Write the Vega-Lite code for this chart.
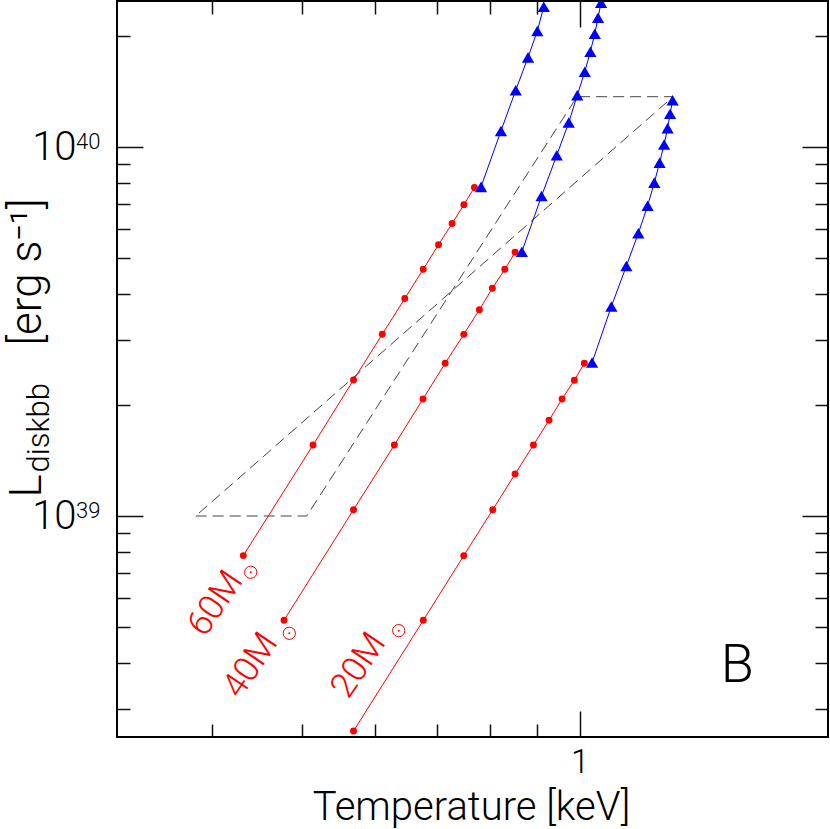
{
  "$schema": "https://vega.github.io/schema/vega-lite/v6.json",
  "width": 711,
  "height": 736,
  "autosize": {"type": "none"},
  "padding": {"left": 117, "top": 1, "right": 2, "bottom": 92},
  "background": "white",
  "config": {
    "view": {"stroke": "black", "strokeWidth": 2},
    "axis": {
      "grid": false,
      "domain": false,
      "tickColor": "#111111",
      "tickWidth": 1.5,
      "labelFont": "Roboto",
      "labelFontWeight": 300,
      "titleFont": "Roboto",
      "titleFontWeight": 300,
      "labelColor": "black",
      "titleColor": "black",
      "labelFontSize": 36,
      "titleFontSize": 41
    }
  },
  "datasets": {
    "tracks": [
      {"mass": "60", "branch": "std", "T": 0.4322, "L": 7.81e38},
      {"mass": "60", "branch": "std", "T": 0.5143, "L": 1.557e39},
      {"mass": "60", "branch": "std", "T": 0.5690, "L": 2.337e39},
      {"mass": "60", "branch": "std", "T": 0.6113, "L": 3.109e39},
      {"mass": "60", "branch": "std", "T": 0.6466, "L": 3.885e39},
      {"mass": "60", "branch": "std", "T": 0.6770, "L": 4.662e39},
      {"mass": "60", "branch": "std", "T": 0.7034, "L": 5.436e39},
      {"mass": "60", "branch": "std", "T": 0.7276, "L": 6.204e39},
      {"mass": "60", "branch": "std", "T": 0.7493, "L": 6.976e39},
      {"mass": "60", "branch": "std", "T": 0.7693, "L": 7.768e39},
      {"mass": "60", "branch": "slim", "T": 0.7821, "L": 7.80e39},
      {"mass": "60", "branch": "slim", "T": 0.8219, "L": 1.105e40},
      {"mass": "60", "branch": "slim", "T": 0.8528, "L": 1.425e40},
      {"mass": "60", "branch": "slim", "T": 0.8794, "L": 1.750e40},
      {"mass": "60", "branch": "slim", "T": 0.9000, "L": 2.063e40},
      {"mass": "60", "branch": "slim", "T": 0.9146, "L": 2.400e40},
      {"mass": "40", "branch": "std", "T": 0.4784, "L": 5.216e38},
      {"mass": "40", "branch": "std", "T": 0.5690, "L": 1.040e39},
      {"mass": "40", "branch": "std", "T": 0.6300, "L": 1.557e39},
      {"mass": "40", "branch": "std", "T": 0.6767, "L": 2.076e39},
      {"mass": "40", "branch": "std", "T": 0.7152, "L": 2.594e39},
      {"mass": "40", "branch": "std", "T": 0.7491, "L": 3.107e39},
      {"mass": "40", "branch": "std", "T": 0.7789, "L": 3.624e39},
      {"mass": "40", "branch": "std", "T": 0.8045, "L": 4.141e39},
      {"mass": "40", "branch": "std", "T": 0.8299, "L": 4.662e39},
      {"mass": "40", "branch": "std", "T": 0.8514, "L": 5.183e39},
      {"mass": "40", "branch": "slim", "T": 0.8660, "L": 5.203e39},
      {"mass": "40", "branch": "slim", "T": 0.9095, "L": 7.366e39},
      {"mass": "40", "branch": "slim", "T": 0.9447, "L": 9.501e39},
      {"mass": "40", "branch": "slim", "T": 0.9734, "L": 1.165e40},
      {"mass": "40", "branch": "slim", "T": 0.9943, "L": 1.382e40},
      {"mass": "40", "branch": "slim", "T": 1.0131, "L": 1.600e40},
      {"mass": "40", "branch": "slim", "T": 1.0273, "L": 1.813e40},
      {"mass": "40", "branch": "slim", "T": 1.0387, "L": 2.028e40},
      {"mass": "40", "branch": "slim", "T": 1.0472, "L": 2.241e40},
      {"mass": "40", "branch": "slim", "T": 1.0551, "L": 2.461e40},
      {"mass": "20", "branch": "std", "T": 0.5690, "L": 2.614e38},
      {"mass": "20", "branch": "std", "T": 0.6772, "L": 5.216e38},
      {"mass": "20", "branch": "std", "T": 0.7491, "L": 7.808e38},
      {"mass": "20", "branch": "std", "T": 0.8053, "L": 1.040e39},
      {"mass": "20", "branch": "std", "T": 0.8514, "L": 1.300e39},
      {"mass": "20", "branch": "std", "T": 0.8913, "L": 1.557e39},
      {"mass": "20", "branch": "std", "T": 0.9267, "L": 1.817e39},
      {"mass": "20", "branch": "std", "T": 0.9573, "L": 2.076e39},
      {"mass": "20", "branch": "std", "T": 0.9871, "L": 2.333e39},
      {"mass": "20", "branch": "std", "T": 1.0120, "L": 2.594e39},
      {"mass": "20", "branch": "slim", "T": 1.0317, "L": 2.606e39},
      {"mass": "20", "branch": "slim", "T": 1.0826, "L": 3.697e39},
      {"mass": "20", "branch": "slim", "T": 1.1238, "L": 4.759e39},
      {"mass": "20", "branch": "slim", "T": 1.1579, "L": 5.837e39},
      {"mass": "20", "branch": "slim", "T": 1.1850, "L": 6.929e39},
      {"mass": "20", "branch": "slim", "T": 1.2050, "L": 8.008e39},
      {"mass": "20", "branch": "slim", "T": 1.2210, "L": 9.068e39},
      {"mass": "20", "branch": "slim", "T": 1.2348, "L": 1.016e40},
      {"mass": "20", "branch": "slim", "T": 1.2456, "L": 1.124e40},
      {"mass": "20", "branch": "slim", "T": 1.2534, "L": 1.231e40},
      {"mass": "20", "branch": "slim", "T": 1.2613, "L": 1.339e40}
    ],
    "region": [
      {"i": 0, "T": 0.3838, "L": 1.0e39},
      {"i": 1, "T": 0.5063, "L": 1.0e39},
      {"i": 2, "T": 0.9938, "L": 1.369e40},
      {"i": 3, "T": 1.2628, "L": 1.369e40},
      {"i": 4, "T": 0.3838, "L": 1.0e39}
    ],
    "labels": [
      {"text": "60M", "T": 0.3928, "L": 4.67e38},
      {"text": "40M", "T": 0.4287, "L": 3.172e38},
      {"text": "20M", "T": 0.5614, "L": 3.172e38}
    ],
    "suns": [
      {"mass": "60", "T": 0.4403, "L": 7.04e38},
      {"mass": "40", "T": 0.4848, "L": 4.81e38},
      {"mass": "20", "T": 0.6369, "L": 4.89e38}
    ],
    "panel": [
      {"text": "B", "T": 1.4826, "L": 3.556e38}
    ]
  },
  "resolve": {"axis": {"x": "independent", "y": "independent"}},
  "layer": [
    {
      "data": {"name": "region"},
      "mark": {"type": "line", "stroke": "#444444", "strokeWidth": 1, "strokeDash": [11, 6], "clip": true},
      "encoding": {
        "x": {"field": "T", "type": "quantitative",
          "scale": {"type": "log", "domain": [0.3154, 1.8585], "nice": false},
          "axis": {"orient": "bottom", "values": [1], "tickSize": -26, "labels": false,
            "title": "Temperature [keV]", "titleFontSize": 40, "titleX": 354, "titleY": 82, "titleAlign": "center", "titleBaseline": "alphabetic", "titleAngle": 0}},
        "y": {"field": "L", "type": "quantitative",
          "scale": {"type": "log", "domain": [2.518e38, 2.4875e40], "nice": false},
          "axis": {"orient": "left", "values": [1e39, 1e40], "tickSize": -26, "labels": false,
            "title": "[erg s⁻¹]", "titleFontSize": 44, "titleX": -77, "titleY": 344, "titleAngle": 270, "titleAlign": "left", "titleBaseline": "alphabetic"}},
        "order": {"field": "i", "type": "quantitative"}
      }
    },
    {
      "data": {"name": "tracks"},
      "transform": [{"filter": "datum.branch === 'std'"}],
      "mark": {"type": "line", "stroke": "#ff0000", "strokeWidth": 1, "clip": true},
      "encoding": {
        "x": {"field": "T", "type": "quantitative",
          "scale": {"type": "log", "domain": [0.3154, 1.8585], "nice": false},
          "axis": {"orient": "bottom", "values": [0.4, 0.5, 0.6, 0.7, 0.8, 0.9], "tickSize": -13, "labels": false, "title": null}},
        "y": {"field": "L", "type": "quantitative",
          "scale": {"type": "log", "domain": [2.518e38, 2.4875e40], "nice": false},
          "axis": {"orient": "left", "values": [3e38, 4e38, 5e38, 6e38, 7e38, 8e38, 9e38, 2e39, 3e39, 4e39, 5e39, 6e39, 7e39, 8e39, 9e39, 2e40], "tickSize": -13, "labels": false,
            "title": "L", "titleFontSize": 44, "titleX": -77, "titleY": 496, "titleAngle": 270, "titleAlign": "left", "titleBaseline": "alphabetic"}},
        "detail": {"field": "mass", "type": "nominal"}
      }
    },
    {
      "data": {"name": "tracks"},
      "transform": [{"filter": "datum.branch === 'slim'"}],
      "mark": {"type": "line", "stroke": "#0000ff", "strokeWidth": 1, "clip": true},
      "encoding": {
        "x": {"field": "T", "type": "quantitative",
          "scale": {"type": "log", "domain": [0.3154, 1.8585], "nice": false},
          "axis": {"orient": "top", "values": [1], "tickSize": -26, "labels": false, "title": null}},
        "y": {"field": "L", "type": "quantitative",
          "scale": {"type": "log", "domain": [2.518e38, 2.4875e40], "nice": false},
          "axis": {"orient": "right", "values": [1e39, 1e40], "tickSize": -26, "labels": false,
            "title": "diskbb", "titleFontSize": 31, "titleX": -780, "titleY": 471, "titleAngle": 270, "titleAlign": "left", "titleBaseline": "alphabetic"}},
        "detail": {"field": "mass", "type": "nominal"}
      }
    },
    {
      "data": {"name": "tracks"},
      "transform": [{"filter": "datum.branch === 'std'"}],
      "mark": {"type": "point", "shape": "circle", "filled": true, "size": 48, "color": "#ff0000", "opacity": 1, "clip": true},
      "encoding": {
        "x": {"field": "T", "type": "quantitative",
          "scale": {"type": "log", "domain": [0.3154, 1.8585], "nice": false},
          "axis": {"orient": "top", "values": [0.4, 0.5, 0.6, 0.7, 0.8, 0.9], "tickSize": -13, "labels": false, "title": null}},
        "y": {"field": "L", "type": "quantitative",
          "scale": {"type": "log", "domain": [2.518e38, 2.4875e40], "nice": false},
          "axis": {"orient": "right", "values": [3e38, 4e38, 5e38, 6e38, 7e38, 8e38, 9e38, 2e39, 3e39, 4e39, 5e39, 6e39, 7e39, 8e39, 9e39, 2e40], "tickSize": -13, "labels": false, "title": null}}
      }
    },
    {
      "data": {"name": "tracks"},
      "transform": [{"filter": "datum.branch === 'slim'"}],
      "mark": {"type": "point", "shape": "triangle-up", "filled": true, "size": 150, "color": "#0000ff", "opacity": 1, "clip": true},
      "encoding": {
        "x": {"field": "T", "type": "quantitative",
          "scale": {"type": "log", "domain": [0.3154, 1.8585], "nice": false},
          "axis": {"orient": "bottom", "values": [1], "ticks": false, "labels": true, "labelExpr": "'1'", "labelPadding": 9, "labelFontSize": 33, "title": null}},
        "y": {"field": "L", "type": "quantitative",
          "scale": {"type": "log", "domain": [2.518e38, 2.4875e40], "nice": false},
          "axis": {"orient": "left", "values": [1e39, 1e40], "ticks": false, "labels": true, "labelExpr": "'10'", "labelPadding": 41, "labelFontSize": 40, "title": null}}
      }
    },
    {
      "data": {"name": "labels"},
      "mark": {"type": "text", "angle": 304, "align": "left", "baseline": "alphabetic", "font": "Roboto", "fontWeight": 300, "fontSize": 35, "color": "#ff0000"},
      "encoding": {
        "x": {"field": "T", "type": "quantitative", "scale": {"type": "log", "domain": [0.3154, 1.8585], "nice": false}, "axis": null},
        "y": {"field": "L", "type": "quantitative", "scale": {"type": "log", "domain": [2.518e38, 2.4875e40], "nice": false},
          "axis": {"orient": "left", "values": [1e39, 1e40], "ticks": false, "labels": true, "labelExpr": "datum.value < 5e39 ? '39' : '40'", "labelPadding": 17, "labelFontSize": 22, "labelOffset": -6, "title": null}},
        "text": {"field": "text", "type": "nominal"}
      }
    },
    {
      "data": {"name": "suns"},
      "mark": {"type": "point", "shape": "circle", "filled": false, "size": 150, "stroke": "#ff0000", "strokeWidth": 1, "opacity": 1},
      "encoding": {
        "x": {"field": "T", "type": "quantitative", "scale": {"type": "log", "domain": [0.3154, 1.8585], "nice": false}, "axis": null},
        "y": {"field": "L", "type": "quantitative", "scale": {"type": "log", "domain": [2.518e38, 2.4875e40], "nice": false}, "axis": null}
      }
    },
    {
      "data": {"name": "suns"},
      "mark": {"type": "point", "shape": "circle", "filled": true, "size": 4, "color": "#ff0000", "opacity": 1},
      "encoding": {
        "x": {"field": "T", "type": "quantitative", "scale": {"type": "log", "domain": [0.3154, 1.8585], "nice": false}, "axis": null},
        "y": {"field": "L", "type": "quantitative", "scale": {"type": "log", "domain": [2.518e38, 2.4875e40], "nice": false}, "axis": null}
      }
    },
    {
      "data": {"name": "panel"},
      "mark": {"type": "text", "align": "center", "baseline": "alphabetic", "font": "Roboto", "fontWeight": 300, "fontSize": 54, "color": "black"},
      "encoding": {
        "x": {"field": "T", "type": "quantitative", "scale": {"type": "log", "domain": [0.3154, 1.8585], "nice": false}, "axis": null},
        "y": {"field": "L", "type": "quantitative", "scale": {"type": "log", "domain": [2.518e38, 2.4875e40], "nice": false}, "axis": null},
        "text": {"field": "text", "type": "nominal"}
      }
    }
  ]
}
